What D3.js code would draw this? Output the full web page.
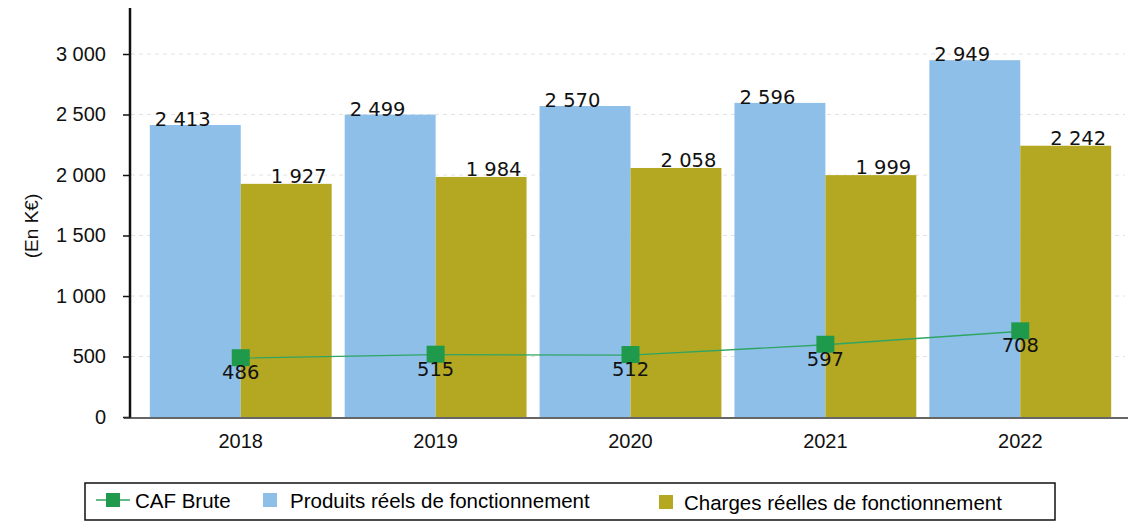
<!DOCTYPE html>
<html>
<head>
<meta charset="utf-8">
<script src="https://cdn.jsdelivr.net/npm/d3@7"></script>
<style>
  body { margin: 0; background: #fff; }
  text { font-family: "Liberation Sans", Arial, sans-serif; }
  .val { font-family: "DejaVu Sans", sans-serif; font-size: 19.5px; fill: #111; }
</style>
</head>
<body>
<div id="chart"></div>
<script>
var years = ["2018", "2019", "2020", "2021", "2022"];
var produits = [2413, 2499, 2570, 2596, 2949];
var charges = [1927, 1984, 2058, 1999, 2242];
var caf = [486, 515, 512, 597, 708];
var yTicks = [0, 500, 1000, 1500, 2000, 2500, 3000];

var svgWidth = 1133, svgHeight = 526;
var fmt = function(v) { return d3.format(",")(v).replace(/,/g, " "); };

var svg = d3.select("#chart").append("svg")
  .attr("width", svgWidth)
  .attr("height", svgHeight);

var x = d3.scaleBand().domain(years).range([143, 1118]).paddingInner(0.067).paddingOuter(0.035);
var y = d3.scaleLinear().domain([0, 3000]).range([417, 54]);
var half = x.bandwidth() / 2;

// gridlines
svg.append("g").selectAll("line")
  .data(yTicks.slice(1))
  .enter().append("line")
  .attr("x1", 131).attr("x2", 1125)
  .attr("y1", d => y(d)).attr("y2", d => y(d))
  .attr("stroke", "#e2e2e2").attr("stroke-dasharray", "4,4");

// bars
svg.append("g").selectAll("rect")
  .data(produits)
  .enter().append("rect")
  .attr("x", (d, i) => x(years[i]))
  .attr("y", d => y(d))
  .attr("width", half)
  .attr("height", d => y(0) - y(d))
  .attr("fill", "#8ebfe9");

svg.append("g").selectAll("rect")
  .data(charges)
  .enter().append("rect")
  .attr("x", (d, i) => x(years[i]) + half)
  .attr("y", d => y(d))
  .attr("width", half)
  .attr("height", d => y(0) - y(d))
  .attr("fill", "#b4a823");

// bar value labels
svg.append("g").selectAll("text")
  .data(produits)
  .enter().append("text")
  .attr("class", "val")
  .attr("x", (d, i) => x(years[i]) + 5)
  .attr("y", d => y(d) + 1)
  .text(d => fmt(d));

svg.append("g").selectAll("text")
  .data(charges)
  .enter().append("text")
  .attr("class", "val")
  .attr("x", (d, i) => x(years[i]) + 2 * half - 5)
  .attr("y", d => y(d) - 1)
  .attr("text-anchor", "end")
  .text(d => fmt(d));

// CAF line
var line = d3.line()
  .x((d, i) => x(years[i]) + half)
  .y(d => y(d));

svg.append("path")
  .datum(caf)
  .attr("d", line)
  .attr("fill", "none")
  .attr("stroke", "#2fa563")
  .attr("stroke-width", 1.3);

svg.append("g").selectAll("rect")
  .data(caf)
  .enter().append("rect")
  .attr("x", (d, i) => x(years[i]) + half - 9)
  .attr("y", d => y(d) - 9)
  .attr("width", 18).attr("height", 17)
  .attr("fill", "#1f9a4c");

svg.append("g").selectAll("text")
  .data(caf)
  .enter().append("text")
  .attr("class", "val")
  .attr("x", (d, i) => x(years[i]) + half)
  .attr("y", d => y(d) + 21)
  .attr("text-anchor", "middle")
  .text(d => d);

// axes
var leftAxis = d3.axisLeft(y).tickValues(yTicks).tickFormat(fmt).tickSize(7).tickPadding(17);
var yAxis = svg.append("g")
  .attr("transform", "translate(130,0)")
  .call(leftAxis);
yAxis.select(".domain").attr("d", "M0,8V418").attr("stroke", "#111").attr("stroke-width", 2.5);
yAxis.selectAll(".tick line").attr("stroke", "#111").attr("stroke-width", 1.5);
yAxis.selectAll(".tick text").attr("font-size", 20).attr("fill", "#111")
  .attr("font-family", "Liberation Sans, Arial, sans-serif");

svg.append("line")
  .attr("x1", 124).attr("x2", 1128)
  .attr("y1", 418).attr("y2", 418)
  .attr("stroke", "#333").attr("stroke-width", 1.5);

svg.append("g").selectAll("text")
  .data(years)
  .enter().append("text")
  .attr("x", d => x(d) + half)
  .attr("y", 448)
  .attr("text-anchor", "middle")
  .attr("font-size", 20)
  .attr("fill", "#111")
  .text(d => d);

svg.append("text")
  .attr("transform", "translate(38,226) rotate(-90)")
  .attr("text-anchor", "middle")
  .attr("font-size", 19)
  .attr("fill", "#111")
  .text("(En K€)");

// legend
var legend = svg.append("g");
legend.append("rect")
  .attr("x", 85).attr("y", 483).attr("width", 970).attr("height", 37)
  .attr("fill", "none").attr("stroke", "#111").attr("stroke-width", 1.5);

legend.append("line")
  .attr("x1", 96).attr("x2", 130).attr("y1", 500).attr("y2", 500)
  .attr("stroke", "#2fa563").attr("stroke-width", 1.3);
legend.append("rect")
  .attr("x", 106).attr("y", 493).attr("width", 14).attr("height", 14)
  .attr("fill", "#1f9a4c");
legend.append("text").attr("x", 135).attr("y", 508).attr("font-size", 20.5).text("CAF Brute");

legend.append("rect")
  .attr("x", 263).attr("y", 493).attr("width", 14).attr("height", 14)
  .attr("fill", "#8ebfe9");
legend.append("text").attr("x", 290).attr("y", 508).attr("font-size", 20.5).text("Produits réels de fonctionnement");

legend.append("rect")
  .attr("x", 659).attr("y", 495).attr("width", 14).attr("height", 14)
  .attr("fill", "#b4a823");
legend.append("text").attr("x", 684).attr("y", 510).attr("font-size", 20.5).text("Charges réelles de fonctionnement");
</script>
</body>
</html>
